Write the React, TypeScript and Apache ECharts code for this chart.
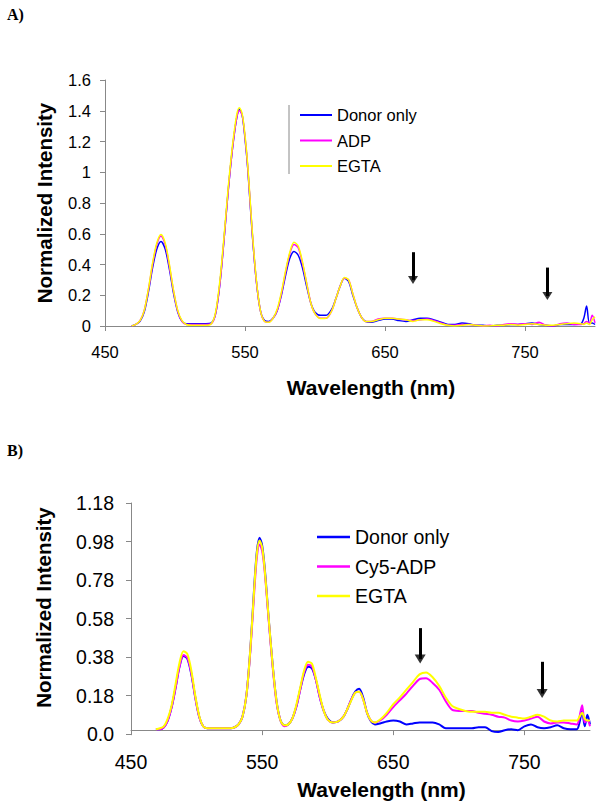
import React, { useEffect, useRef } from "react";
import * as echarts from "echarts";

// Shared wavelength grid (nm)
const WAVELENGTHS = [
  469, 472, 475, 478, 481, 484, 487, 490, 493, 496, 499, 502, 505, 508,
  512, 517, 522, 526, 529, 532, 535, 538, 541, 544,
  546, 548, 550, 552, 555, 558, 561, 564, 567, 570, 573, 576, 579, 582, 585, 588, 591, 594, 597, 600,
  604, 608, 612, 615, 618, 621, 624, 627, 630, 633, 636, 640,
  645, 650, 655, 660, 665, 670, 675, 680, 685, 690, 695, 700, 705, 710, 715, 720, 725, 730, 735, 740,
  745, 750, 755, 760, 765, 770, 775, 780, 785, 790,
  792, 794, 796, 798, 800,
];

// Panel A
const A_DONOR = [
  0.0, 0.01, 0.03, 0.09, 0.22, 0.38, 0.5, 0.55, 0.5, 0.37, 0.21, 0.09, 0.03, 0.015,
  0.015, 0.015, 0.015, 0.02, 0.08, 0.27, 0.56, 0.88, 1.15, 1.35,
  1.41, 1.37, 1.22, 1.02, 0.62, 0.3, 0.1, 0.035, 0.03, 0.05, 0.1, 0.2, 0.33, 0.44, 0.485, 0.46, 0.38, 0.26, 0.15, 0.09,
  0.07, 0.07, 0.11, 0.18, 0.26, 0.31, 0.29, 0.2, 0.12, 0.06, 0.03, 0.025,
  0.035, 0.045, 0.045, 0.035, 0.03, 0.04, 0.05, 0.05, 0.04, 0.025, 0.01, 0.01, 0.02, 0.015, 0.005, 0.005, 0.0, 0.005, 0.005, 0.01,
  0.01, 0.015, 0.02, 0.01, 0.005, 0.0, 0.01, 0.01, 0.01, 0.015,
  0.05, 0.13, 0.02, 0.02, 0.01,
];
const A_ADP = [
  0.0, 0.01, 0.035, 0.1, 0.235, 0.4, 0.53, 0.585, 0.53, 0.39, 0.225, 0.095, 0.03, 0.01,
  0.01, 0.01, 0.01, 0.015, 0.08, 0.27, 0.56, 0.88, 1.15, 1.35,
  1.4, 1.37, 1.23, 1.03, 0.63, 0.3, 0.1, 0.03, 0.025, 0.05, 0.1, 0.21, 0.35, 0.47, 0.53, 0.51, 0.41, 0.28, 0.15, 0.08,
  0.05, 0.05, 0.1, 0.18, 0.26, 0.31, 0.3, 0.21, 0.12, 0.06, 0.03, 0.03,
  0.045, 0.05, 0.05, 0.045, 0.04, 0.035, 0.04, 0.045, 0.035, 0.02, 0.005, 0.005, 0.01, 0.01, 0.005, 0.0, 0.005, 0.0, 0.01, 0.015,
  0.01, 0.015, 0.01, 0.025, 0.005, 0.0, 0.015, 0.02, 0.01, 0.01,
  0.015, 0.03, 0.02, 0.07, 0.02,
];
const A_EGTA = [
  0.0, 0.01, 0.035, 0.1, 0.24, 0.41, 0.54, 0.595, 0.54, 0.4, 0.23, 0.1, 0.035, 0.01,
  0.005, 0.005, 0.005, 0.015, 0.09, 0.29, 0.58, 0.9, 1.17, 1.37,
  1.42, 1.38, 1.24, 1.04, 0.64, 0.31, 0.1, 0.03, 0.025, 0.05, 0.11, 0.22, 0.36, 0.48, 0.545, 0.52, 0.42, 0.28, 0.15, 0.08,
  0.048, 0.05, 0.1, 0.18, 0.26, 0.315, 0.3, 0.21, 0.12, 0.06, 0.03, 0.03,
  0.04, 0.05, 0.05, 0.045, 0.04, 0.03, 0.04, 0.04, 0.03, 0.015, 0.005, 0.0, 0.005, 0.01, 0.005, 0.0, 0.0, 0.005, 0.005, 0.01,
  0.005, 0.01, 0.015, 0.01, 0.005, 0.005, 0.01, 0.015, 0.02, 0.015,
  0.01, 0.02, 0.01, 0.04, 0.06,
];

// Panel B
const B_DONOR = [
  0.005, 0.005, 0.015, 0.05, 0.12, 0.22, 0.33, 0.385, 0.37, 0.29, 0.17, 0.07, 0.02, 0.01,
  0.01, 0.01, 0.01, 0.01, 0.015, 0.03, 0.07, 0.18, 0.42, 0.75,
  0.93, 1.0, 0.96, 0.84, 0.58, 0.34, 0.15, 0.05, 0.025, 0.03, 0.06, 0.12, 0.21, 0.29, 0.33, 0.32, 0.26, 0.17, 0.1, 0.06,
  0.04, 0.045, 0.07, 0.11, 0.16, 0.2, 0.215, 0.17, 0.09, 0.045, 0.03, 0.035,
  0.045, 0.05, 0.045, 0.03, 0.035, 0.04, 0.04, 0.04, 0.03, 0.01, 0.01, 0.01, 0.01, 0.01, 0.015, 0.015, -0.005, -0.01, 0.0, 0.005,
  0.0, 0.02, 0.03, 0.015, 0.01, 0.015, 0.025, 0.01, 0.005, 0.005,
  0.04, 0.1, 0.02, 0.08, 0.03,
];
const B_CY5ADP = [
  0.005, 0.005, 0.015, 0.05, 0.12, 0.22, 0.33, 0.39, 0.375, 0.295, 0.17, 0.07, 0.02, 0.01,
  0.01, 0.01, 0.01, 0.01, 0.015, 0.03, 0.07, 0.18, 0.41, 0.72,
  0.9, 0.965, 0.93, 0.82, 0.57, 0.33, 0.14, 0.05, 0.02, 0.03, 0.06, 0.12, 0.21, 0.3, 0.34, 0.33, 0.26, 0.17, 0.1, 0.055,
  0.04, 0.045, 0.07, 0.11, 0.16, 0.195, 0.2, 0.16, 0.09, 0.05, 0.04, 0.05,
  0.08, 0.12, 0.155, 0.19, 0.23, 0.265, 0.27, 0.245, 0.21, 0.15, 0.105, 0.1, 0.1, 0.1, 0.09, 0.085, 0.08, 0.07, 0.065, 0.05,
  0.045, 0.05, 0.06, 0.07, 0.045, 0.035, 0.04, 0.04, 0.035, 0.03,
  0.07, 0.13, 0.04, 0.05, 0.02,
];
const B_EGTA = [
  0.005, 0.01, 0.02, 0.06, 0.13, 0.24, 0.35, 0.41, 0.395, 0.31, 0.18, 0.075, 0.02, 0.01,
  0.01, 0.01, 0.01, 0.01, 0.015, 0.03, 0.07, 0.18, 0.42, 0.74,
  0.92, 0.985, 0.95, 0.83, 0.58, 0.34, 0.15, 0.05, 0.025, 0.03, 0.06, 0.13, 0.22, 0.31, 0.355, 0.345, 0.27, 0.18, 0.1, 0.055,
  0.04, 0.045, 0.07, 0.11, 0.155, 0.195, 0.2, 0.16, 0.09, 0.05, 0.04, 0.055,
  0.09, 0.135, 0.17, 0.21, 0.25, 0.29, 0.3, 0.275, 0.23, 0.17, 0.125, 0.11, 0.1, 0.095, 0.095, 0.095, 0.09, 0.09, 0.08, 0.07,
  0.065, 0.06, 0.07, 0.08, 0.07, 0.05, 0.045, 0.05, 0.05, 0.05,
  0.07, 0.09, 0.06, 0.05, 0.05,
];

const X_TICKS = [450, 550, 650, 750];
// arrows: [wavelength, startValue, endValue]
const ARROWS_A = [[670, 0.48, 0.3], [766, 0.38, 0.195]];
const ARROWS_B = [[670.5, 0.53, 0.37], [763.5, 0.355, 0.19]];

const BLUE = "#0000FF";
const MAGENTA = "#FF00FF";
const YELLOW = "#FFFF00";
const FONT = "'Liberation Sans', Arial, sans-serif";

const pairs = (vals: number[]) => WAVELENGTHS.map((w, i) => [w, vals[i]]);

const arrowShafts = (arr: number[][]) => ({
  silent: true,
  symbol: ["none", "none"],
  label: { show: false },
  lineStyle: { color: "#000", width: 3, type: "solid" },
  emphasis: { disabled: true },
  data: arr.map(([w, a, b]) => [{ coord: [w, a] }, { coord: [w, b] }]),
});

const arrowHeads = (arr: number[][], xi: number, size: number[]) => ({
  type: "scatter",
  xAxisIndex: xi,
  yAxisIndex: xi,
  silent: true,
  symbol: "triangle",
  symbolRotate: 180,
  symbolSize: size,
  itemStyle: { color: "#000" },
  data: arr.map(([w, , b]) => [w, b]),
  z: 5,
});

export default function App() {
  const ref = useRef<HTMLDivElement>(null);
  useEffect(() => {
    if (!ref.current) return;
    const chart = echarts.init(ref.current, null, { renderer: "svg" });

    const xAxisBase = (gridIndex: number, fs: number, margin: number, nameGap: number) => ({
      type: "value",
      gridIndex,
      min: 450,
      max: 800,
      interval: 100,
      name: "Wavelength (nm)",
      nameLocation: "middle",
      nameGap,
      nameTextStyle: { fontFamily: FONT, fontWeight: "bold", fontSize: 21, color: "#000", padding: [0, 0, 0, 42] },
      axisLine: { lineStyle: { color: "#888", width: 1 } },
      axisTick: { show: true, length: 5, lineStyle: { color: "#888" }, customValues: X_TICKS },
      axisLabel: { fontFamily: FONT, fontSize: fs, color: "#000", margin, customValues: X_TICKS },
      splitLine: { show: false },
    });

    const option: any = {
      animation: false,
      backgroundColor: "#fff",
      grid: [
        { left: 105, top: 80, right: 6, height: 246 },
        { left: 131, top: 503, right: 11, height: 231 },
      ],
      xAxis: [xAxisBase(0, 16.5, 17, 51), xAxisBase(1, 19.5, 18, 45)],
      yAxis: [
        {
          type: "value",
          gridIndex: 0,
          min: 0,
          max: 1.6,
          interval: 0.2,
          name: "Normalized Intensity",
          nameLocation: "middle",
          nameGap: 50,
          nameRotate: 90,
          nameTextStyle: { fontFamily: FONT, fontWeight: "bold", fontSize: 20.5, color: "#000" },
          axisLine: { show: true, lineStyle: { color: "#888" } },
          axisTick: { show: true, length: 5, lineStyle: { color: "#888" } },
          axisLabel: { fontFamily: FONT, fontSize: 16.5, color: "#000", margin: 14 },
          splitLine: { show: false },
        },
        {
          type: "value",
          gridIndex: 1,
          min: -0.02,
          max: 1.18,
          interval: 0.2,
          name: "Normalized Intensity",
          nameLocation: "middle",
          nameGap: 77,
          nameRotate: 90,
          nameTextStyle: { fontFamily: FONT, fontWeight: "bold", fontSize: 20.5, color: "#000", padding: [0, 0, 0, 22] },
          axisLine: { show: true, lineStyle: { color: "#888" } },
          axisTick: { show: true, length: 5, lineStyle: { color: "#888" } },
          axisLabel: {
            fontFamily: FONT,
            fontSize: 19.5,
            color: "#000",
            margin: 17,
            formatter: (v: number) => (Math.abs(v + 0.02) < 1e-6 ? "0.0" : v.toFixed(2)),
          },
          splitLine: { show: false },
        },
      ],
      legend: [
        {
          data: ["Donor only", "ADP", "EGTA"],
          orient: "vertical",
          left: 295,
          top: 101,
          icon: "rect",
          itemWidth: 32,
          itemHeight: 2,
          itemGap: 7.5,
          textStyle: { fontFamily: FONT, fontSize: 16.5, color: "#000", lineHeight: 18 },
          selectedMode: false,
        },
        {
          data: ["Donor only", "Cy5-ADP", "EGTA"],
          orient: "vertical",
          left: 312,
          top: 521,
          icon: "rect",
          itemWidth: 33,
          itemHeight: 2.5,
          itemGap: 7.5,
          textStyle: { fontFamily: FONT, fontSize: 19.5, color: "#000", lineHeight: 22 },
          selectedMode: false,
        },
      ],
      graphic: [
        { type: "text", left: 7, top: 6, style: { text: "A)", font: "bold 16px 'Liberation Serif', 'Times New Roman', serif", fill: "#000" } },
        { type: "text", left: 7, top: 442, style: { text: "B)", font: "bold 16px 'Liberation Serif', 'Times New Roman', serif", fill: "#000" } },
        { type: "line", shape: { x1: 289, y1: 105, x2: 289, y2: 174 }, style: { stroke: "#888", lineWidth: 1 } },
      ],
      series: [
        { name: "Donor only", type: "line", xAxisIndex: 0, yAxisIndex: 0, data: pairs(A_DONOR), showSymbol: false, smooth: 0.3, lineStyle: { width: 1.5, color: BLUE }, itemStyle: { color: BLUE } },
        { name: "ADP", type: "line", xAxisIndex: 0, yAxisIndex: 0, data: pairs(A_ADP), showSymbol: false, smooth: 0.3, lineStyle: { width: 1.5, color: MAGENTA }, itemStyle: { color: MAGENTA } },
        {
          name: "EGTA", type: "line", xAxisIndex: 0, yAxisIndex: 0, data: pairs(A_EGTA), showSymbol: false, smooth: 0.3,
          lineStyle: { width: 1.5, color: YELLOW }, itemStyle: { color: YELLOW },
          markLine: arrowShafts(ARROWS_A),
        },
        arrowHeads(ARROWS_A, 0, [10, 8]),
        { name: "Donor only", type: "line", xAxisIndex: 1, yAxisIndex: 1, data: pairs(B_DONOR), showSymbol: false, smooth: 0.3, lineStyle: { width: 2, color: BLUE }, itemStyle: { color: BLUE } },
        { name: "Cy5-ADP", type: "line", xAxisIndex: 1, yAxisIndex: 1, data: pairs(B_CY5ADP), showSymbol: false, smooth: 0.3, lineStyle: { width: 2, color: MAGENTA }, itemStyle: { color: MAGENTA } },
        {
          name: "EGTA", type: "line", xAxisIndex: 1, yAxisIndex: 1, data: pairs(B_EGTA), showSymbol: false, smooth: 0.3,
          lineStyle: { width: 2, color: YELLOW }, itemStyle: { color: YELLOW },
          markLine: arrowShafts(ARROWS_B),
        },
        arrowHeads(ARROWS_B, 1, [11, 9]),
      ],
    };
    chart.setOption(option);
    return () => chart.dispose();
  }, []);
  return <div ref={ref} style={{ position: "absolute", left: 0, top: 0, width: 601, height: 811 }} />;
}
